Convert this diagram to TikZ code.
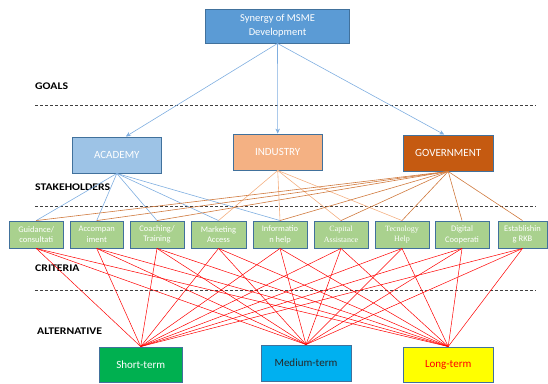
\documentclass[tikz,border=0pt]{standalone}
\usepackage{fontspec}
\setmainfont{Carlito}
\newfontfamily\lblfont[FakeStretch=1.15]{Carlito}
\newfontfamily\serfont{Liberation Serif}
\usetikzlibrary{arrows.meta,calc}
\definecolor{bordc}{HTML}{41719C}
\definecolor{topc}{HTML}{5B9BD5}
\definecolor{acac}{HTML}{9DC3E6}
\definecolor{indc}{HTML}{F4B183}
\definecolor{govc}{HTML}{C55A11}
\definecolor{critc}{HTML}{A9D18E}
\definecolor{shc}{HTML}{00B050}
\definecolor{mec}{HTML}{00B0F0}
\definecolor{loc}{HTML}{FFFF00}
\definecolor{bluel}{HTML}{7FAEE0}
\definecolor{govl}{HTML}{D07A3E}
\begin{document}
\begin{tikzpicture}[x=1pt,y=-1pt,
  box/.style={draw=bordc, line width=0.9pt, inner sep=0pt, align=center, text=white},
  crit/.style={box, fill=critc, minimum height=27pt, font=\fontsize{8.5}{10.5}\selectfont},
  stake/.style={box, font=\fontsize{11}{13}\selectfont},
  alt/.style={box, font=\fontsize{11}{13}\selectfont},
  lbl/.style={anchor=west, inner sep=0pt, font=\lblfont\bfseries\fontsize{10.2}{12}\selectfont},
  sepline/.style={densely dashed, line width=0.6pt, black!75},
  bline/.style={bluel, line width=0.6pt},
  iline/.style={indc, line width=0.6pt},
  gline/.style={govl, line width=0.6pt},
  rline/.style={red, line width=0.5pt},
  arr/.style={bluel, line width=0.6pt, -{Stealth[length=5pt,width=4.5pt]}}]
\useasboundingbox (0,0) rectangle (548,383);
% top
\node[box, fill=topc, minimum width=144pt, minimum height=34pt, font=\fontsize{10.5}{14}\selectfont] (top) at (277.5,26) {Synergy of MSME\\Development};
% stakeholders
\node[stake, fill=acac, minimum width=89.6pt, minimum height=36pt] (aca) at (116.8,155) {ACADEMY};
\node[stake, fill=indc, minimum width=89.5pt, minimum height=36pt] (ind) at (277.7,152) {INDUSTRY};
\node[stake, fill=govc, minimum width=90.5pt, minimum height=36pt] (gov) at (448.2,153) {GOVERNMENT};
% criteria
\node[crit, minimum width=53.5pt] (c1) at (36.25,234.5) {Guidance/\\consultati};
\node[crit, minimum width=53.5pt] (c2) at (96.75,234.5) {Accompan\\iment};
\node[crit, minimum width=54pt] (c3) at (157,234.5) {Coaching/\\Training};
\node[crit, minimum width=55pt] (c4) at (218.5,234.5) {Marketing\\Access};
\node[crit, minimum width=54pt] (c5) at (280,234.5) {Informatio\\n help};
\node[crit, minimum width=54pt, font=\serfont\fontsize{8}{10.5}\selectfont] (c6) at (341,234.5) {Capital\\Assistance};
\node[crit, minimum width=54pt, font=\serfont\fontsize{8}{10.5}\selectfont] (c7) at (402,234.5) {Tecnology\\Help};
\node[crit, minimum width=54pt] (c8) at (462,234.5) {Digital\\Cooperati};
\node[crit, minimum width=49pt] (c9) at (522.5,234.5) {Establishin\\g RKB};
% alternatives
\node[alt, fill=shc, minimum width=82.6pt, minimum height=35pt] (sh) at (140.7,364.5) {Short-term};
\node[alt, fill=mec, text=black!85, minimum width=90pt, minimum height=36pt] (me) at (306,363) {Medium-term};
\node[alt, fill=loc, text=red, minimum width=90.5pt, minimum height=35pt] (lo) at (448.2,364.5) {Long-term};
% level labels
\node[lbl] (lgoals) at (35,86) {GOALS};
\node[lbl] (lstake) at (35,187) {STAKEHOLDERS};
\node[lbl] (lcrit) at (35,268) {CRITERIA};
\node[lbl] (lalt) at (37,331) {ALTERNATIVE};
% dashed separators
\coordinate (d1a) at (35,105); \coordinate (d1b) at (536,105);
\coordinate (d2a) at (35,206.5); \coordinate (d2b) at (536,206.5);
\coordinate (d3a) at (35,290); \coordinate (d3b) at (536,290);
\draw[sepline] (d1a) -- (d1b);
\draw[sepline] (d2a) -- (d2b);
\draw[sepline] (d3a) -- (d3b);
% arrows
\draw[arr] (top.south) -- ($(aca.north)+(9,0)$);
\draw[arr] (top.south) -- (ind.north);
\draw[arr] (top.south) -- ($(gov.north)+(-4,0)$);
% stakeholder -> criteria
\foreach \i in {1,...,5} {\draw[bline] (aca.south) -- (c\i.north);}
\foreach \i in {4,...,7} {\draw[iline] (ind.south) -- (c\i.north);}
\foreach \i in {1,2,3,5,6,7,8,9} {\draw[gline] (gov.south) -- (c\i.north);}
% criteria -> alternatives
\foreach \i in {1,...,9} {
  \foreach \a in {sh,me,lo} {\draw[rline] (c\i.south) -- (\a.north);}
}
\end{tikzpicture}
\end{document}
